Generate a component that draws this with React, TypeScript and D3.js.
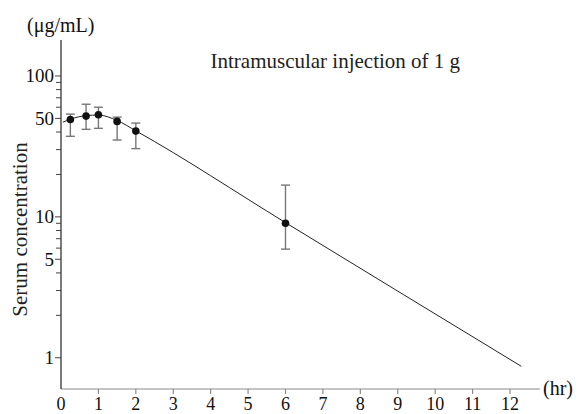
import React from "react";
import * as d3 from "d3";

// measured serum levels (mean with range), hours after injection
const sampleHours = [0.25, 0.67, 1, 1.5, 2, 6];
const meanConc = [49.1, 51.9, 53.1, 47.6, 40.6, 9.0];
const upperConc = [53.6, 63.0, 60.0, 51.0, 46.3, 16.8];
const lowerConc = [37.3, 41.8, 42.5, 35.1, 30.5, 5.9];

// fitted curve drawn through the means
const fitHours = [0.05, 0.25, 0.67, 1, 1.5, 2, 6, 12.3];
const fitConc = [47, 49.3, 52.3, 52.8, 48.3, 40.8, 9.1, 0.87];

const xTickValues = [0, 1, 2, 3, 4, 5, 6, 7, 8, 9, 10, 11, 12];
const yLabelValues = [1, 5, 10, 50, 100];
const yMinorValues = [2, 3, 4, 6, 7, 8, 9, 20, 30, 40, 60, 70, 80, 90];

const title = "Intramuscular injection of 1 g";
const yTitle = "Serum concentration";
const yUnit = "(μg/mL)";
const xUnit = "(hr)";

const W = 579;
const H = 414;
const FONT = '"Liberation Serif", "DejaVu Serif", "Times New Roman", serif';

export default function App() {
  const x = d3.scaleLinear().domain([0, 12]).range([61, 510]);
  const y = d3.scaleLog().domain([0.6, 180]).range([389, 40]);
  const x0 = x(0);
  const yBase = y(0.6);

  const fit = d3
    .line<number>()
    .x((d, i) => x(fitHours[i]))
    .y((d) => y(d))
    .curve(d3.curveMonotoneX);

  const txt = { fontFamily: FONT };

  return (
    <svg
      width={W}
      height={H}
      viewBox={`0 0 ${W} ${H}`}
      style={{ position: "absolute", left: 0, top: 0, display: "block", background: "#fff", fontFamily: FONT }}
    >
      {/* x axis */}
      <line x1={x0} x2={x(12.8)} y1={yBase} y2={yBase} stroke="#8a8a8a" strokeWidth={1.2} />
      {xTickValues.map((t) => (
        <g key={t}>
          {t > 0 && (
            <line x1={x(t)} x2={x(t)} y1={yBase} y2={yBase + 5} stroke="#8a8a8a" strokeWidth={1.2} />
          )}
          <text x={x(t)} y={409.5} fontSize={18} textAnchor="middle" fill="#111" style={txt}>
            {t}
          </text>
        </g>
      ))}
      <text x={543} y={395} fontSize={20} fill="#111" style={txt}>
        {xUnit}
      </text>

      {/* y axis */}
      <line x1={x0} x2={x0} y1={yBase} y2={y(180)} stroke="#222" strokeWidth={1.2} />
      {yMinorValues.map((v) => (
        <line key={v} x1={x0 - 5} x2={x0} y1={y(v)} y2={y(v)} stroke="#444" strokeWidth={1} />
      ))}
      {yLabelValues.map((v) => (
        <g key={v}>
          <line x1={x0 - 6} x2={x0} y1={y(v)} y2={y(v)} stroke="#444" strokeWidth={1} />
          <text x={x0 - 7} y={y(v)} dy="0.34em" fontSize={19} textAnchor="end" fill="#111" style={txt}>
            {v}
          </text>
        </g>
      ))}
      <text x={27} y={31.5} fontSize={20} fill="#111" style={txt}>
        {yUnit}
      </text>
      <text
        transform="translate(27,229.5) rotate(-90)"
        fontSize={21}
        textAnchor="middle"
        fill="#222"
        style={txt}
      >
        {yTitle}
      </text>

      <text x={210.5} y={68} fontSize={21} fill="#222" style={txt}>
        {title}
      </text>

      {/* fitted curve */}
      <path d={fit(fitConc) ?? ""} fill="none" stroke="#222" strokeWidth={1} />

      {/* error bars and means */}
      {sampleHours.map((t, i) => {
        const cx = x(t);
        return (
          <g key={t}>
            <line x1={cx} x2={cx} y1={y(upperConc[i])} y2={y(lowerConc[i])} stroke="#777" strokeWidth={1.4} />
            <line x1={cx - 4.5} x2={cx + 4.5} y1={y(upperConc[i])} y2={y(upperConc[i])} stroke="#777" strokeWidth={1.4} />
            <line x1={cx - 4.5} x2={cx + 4.5} y1={y(lowerConc[i])} y2={y(lowerConc[i])} stroke="#777" strokeWidth={1.4} />
            <circle cx={cx} cy={y(meanConc[i])} r={3.8} fill="#111" />
          </g>
        );
      })}
    </svg>
  );
}
